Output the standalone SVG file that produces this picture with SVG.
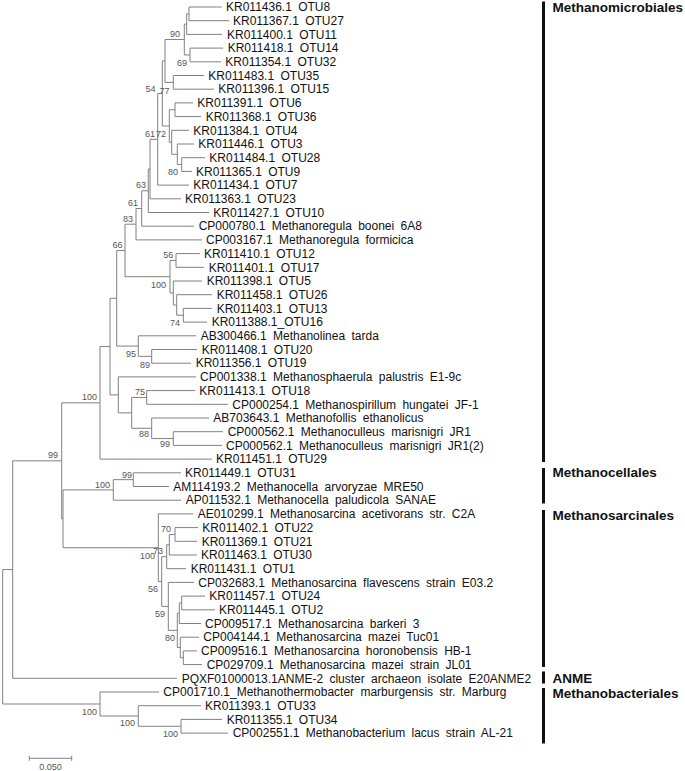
<svg xmlns="http://www.w3.org/2000/svg" width="685" height="771" viewBox="0 0 685 771">
<style>
.br{fill:none;stroke:#808080;stroke-width:1}
.lf{font-family:"Liberation Sans",Arial,sans-serif;font-size:12px;fill:#111;word-spacing:3px}
.bs{font-family:"Liberation Sans",Arial,sans-serif;font-size:9px;fill:#555;text-anchor:end}
.grp{font-family:"Liberation Sans",Arial,sans-serif;font-size:13.5px;font-weight:bold;fill:#111}
.bar{fill:#111}
</style>
<rect width="685" height="771" fill="#fff"/>
<g id="connectors">
<path class="br" d="M189,7V20.7M189,7H221.7M189,20.7H229.3
M186.7,13.85V34.4M186.7,13.85H189M186.7,34.4H222
M190,48.1V61.8M190,48.1H223M190,61.8H221
M184.3,24.13V54.95M184.3,24.13H186.7M184.3,54.95H190
M173.3,75.5V89.2M173.3,75.5H204M173.3,89.2H214
M165,39.54V82.35M165,39.54H184.3M165,82.35H173.3
M175,102.9V116.6M175,102.9H193M175,116.6H201
M181.7,157.7V171.4M181.7,157.7H205M181.7,171.4H192
M177.3,144V164.55M177.3,144H194M177.3,164.55H181.7
M171.7,130.3V154.28M171.7,130.3H189M171.7,154.28H177.3
M169.3,109.75V142.29M169.3,109.75H175M169.3,142.29H171.7
M162.3,60.94V126.02M162.3,60.94H165M162.3,126.02H169.3
M157.7,93.48V185.1M157.7,93.48H162.3M157.7,185.1H189
M150,139.29V198.8M150,139.29H157.7M150,198.8H181
M148.3,169.05V212.5M148.3,169.05H150M148.3,212.5H209
M141.7,190.77V226.2M141.7,190.77H148.3M141.7,226.2H194
M136,208.49V239.9M136,208.49H141.7M136,239.9H202
M176,253.6V267.3M176,253.6H200M176,267.3H204
M183.3,308.4V322.1M183.3,308.4H212M183.3,322.1H207
M176.7,294.7V315.25M176.7,294.7H212M176.7,315.25H183.3
M173.3,281V304.98M173.3,281H202M173.3,304.98H176.7
M170,260.45V292.99M170,260.45H176M170,292.99H173.3
M125,224.19V276.72M125,224.19H136M125,276.72H170
M151.7,349.5V363.2M151.7,349.5H197M151.7,363.2H191
M138.3,335.8V356.35M138.3,335.8H196M138.3,356.35H151.7
M116.7,250.46V346.08M116.7,250.46H125M116.7,346.08H138.3
M146.7,390.6V404.3M146.7,390.6H195M146.7,404.3H228
M173.3,431.7V445.4M173.3,431.7H223M173.3,445.4H222
M151.7,418V438.55M151.7,418H209M151.7,438.55H173.3
M131.7,397.45V428.28M131.7,397.45H146.7M131.7,428.28H151.7
M118.3,376.9V412.86M118.3,376.9H196M118.3,412.86H131.7
M110,298.27V394.88M110,298.27H116.7M110,394.88H118.3
M100,346.58V459.1M100,346.58H110M100,459.1H212
M133.3,472.8V486.5M133.3,472.8H181M133.3,486.5H169
M113.3,479.65V500.2M113.3,479.65H133.3M113.3,500.2H181
M175,527.6V541.3M175,527.6H198M175,541.3H197
M169.3,534.45V555M169.3,534.45H175M169.3,555H197
M166.7,544.73V568.7M166.7,544.73H169.3M166.7,568.7H186
M181.7,596.1V609.8M181.7,596.1H205M181.7,609.8H215
M179.3,602.95V623.5M179.3,602.95H181.7M179.3,623.5H201
M183.3,650.9V664.6M183.3,650.9H197M183.3,664.6H202
M180.3,637.2V657.75M180.3,637.2H199M180.3,657.75H183.3
M177.3,613.23V647.48M177.3,613.23H179.3M177.3,647.48H180.3
M168.3,582.4V630.35M168.3,582.4H194M168.3,630.35H177.3
M161.7,556.71V606.38M161.7,556.71H166.7M161.7,606.38H168.3
M158.3,513.9V581.54M158.3,513.9H193M158.3,581.54H161.7
M63,489.93V547.72M63,489.93H113.3M63,547.72H158.3
M61.7,402.84V518.83M61.7,402.84H100M61.7,518.83H63
M12.7,460.83V678.3M12.7,460.83H61.7M12.7,678.3H177
M181,719.4V733.1M181,719.4H222M181,733.1H228
M138.3,705.7V726.25M138.3,705.7H201M138.3,726.25H181
M100,692V715.98M100,692H159M100,715.98H138.3
M2.7,569.57V703.99M2.7,569.57H12.7M2.7,703.99H100"/>
</g>
<g id="bootstrap">
<text class="bs" x="180" y="37">90</text>
<text class="bs" x="187" y="66">69</text>
<text class="bs" x="155.5" y="92">54</text>
<text class="bs" x="169.5" y="93.5">77</text>
<text class="bs" x="155" y="137">61</text>
<text class="bs" x="166" y="137">72</text>
<text class="bs" x="178" y="175">80</text>
<text class="bs" x="146" y="188">63</text>
<text class="bs" x="138" y="206">61</text>
<text class="bs" x="133" y="222">83</text>
<text class="bs" x="122.5" y="248">66</text>
<text class="bs" x="173.3" y="258">56</text>
<text class="bs" x="166" y="288">100</text>
<text class="bs" x="180" y="325.7">74</text>
<text class="bs" x="136" y="357">95</text>
<text class="bs" x="150" y="368">89</text>
<text class="bs" x="97" y="400">100</text>
<text class="bs" x="145" y="395">75</text>
<text class="bs" x="149" y="437">88</text>
<text class="bs" x="170" y="447">99</text>
<text class="bs" x="58" y="458">99</text>
<text class="bs" x="132" y="477.5">99</text>
<text class="bs" x="110" y="487.5">100</text>
<text class="bs" x="171" y="532">70</text>
<text class="bs" x="155" y="559">100</text>
<text class="bs" x="163" y="553.7">73</text>
<text class="bs" x="158" y="592">56</text>
<text class="bs" x="165" y="617">59</text>
<text class="bs" x="175" y="640.7">80</text>
<text class="bs" x="97" y="714.7">100</text>
<text class="bs" x="135" y="726">100</text>
<text class="bs" x="178" y="737">100</text>
</g>
<g id="leaves">
<g id="L0"><text class="lf" x="226" y="11.2">KR011436.1 OTU8</text></g>
<g id="L1"><text class="lf" x="233" y="24.9">KR011367.1 OTU27</text></g>
<g id="L2"><text class="lf" x="227" y="38.6">KR011400.1 OTU11</text></g>
<g id="L3"><text class="lf" x="227.7" y="52.3">KR011418.1 OTU14</text></g>
<g id="L4"><text class="lf" x="225.3" y="66">KR011354.1 OTU32</text></g>
<g id="L5"><text class="lf" x="208.3" y="79.7">KR011483.1 OTU35</text></g>
<g id="L6"><text class="lf" x="218.3" y="93.4">KR011396.1 OTU15</text></g>
<g id="L7"><text class="lf" x="197.3" y="107.1">KR011391.1 OTU6</text></g>
<g id="L8"><text class="lf" x="205.7" y="120.8">KR011368.1 OTU36</text></g>
<g id="L9"><text class="lf" x="193.3" y="134.5">KR011384.1 OTU4</text></g>
<g id="L10"><text class="lf" x="198.3" y="148.2">KR011446.1 OTU3</text></g>
<g id="L11"><text class="lf" x="209.3" y="161.9">KR011484.1 OTU28</text></g>
<g id="L12"><text class="lf" x="196" y="175.6">KR011365.1 OTU9</text></g>
<g id="L13"><text class="lf" x="193.3" y="189.3">KR011434.1 OTU7</text></g>
<g id="L14"><text class="lf" x="185" y="203">KR011363.1 OTU23</text></g>
<g id="L15"><text class="lf" x="213.3" y="216.7">KR011427.1 OTU10</text></g>
<g id="L16"><text class="lf" x="198.7" y="230.4">CP000780.1 Methanoregula boonei 6A8</text></g>
<g id="L17"><text class="lf" x="206" y="244.1">CP003167.1 Methanoregula formicica</text></g>
<g id="L18"><text class="lf" x="204" y="257.8">KR011410.1 OTU12</text></g>
<g id="L19"><text class="lf" x="208.7" y="271.5">KR011401.1 OTU17</text></g>
<g id="L20"><text class="lf" x="206.7" y="285.2">KR011398.1 OTU5</text></g>
<g id="L21"><text class="lf" x="216.7" y="298.9">KR011458.1 OTU26</text></g>
<g id="L22"><text class="lf" x="216.7" y="312.6">KR011403.1 OTU13</text></g>
<g id="L23"><text class="lf" x="211.7" y="326.3">KR011388.1_OTU16</text></g>
<g id="L24"><text class="lf" x="200.7" y="340">AB300466.1 Methanolinea tarda</text></g>
<g id="L25"><text class="lf" x="201.7" y="353.7">KR011408.1 OTU20</text></g>
<g id="L26"><text class="lf" x="195.7" y="367.4">KR011356.1 OTU19</text></g>
<g id="L27"><text class="lf" x="200" y="381.1">CP001338.1 Methanosphaerula palustris E1-9c</text></g>
<g id="L28"><text class="lf" x="199.3" y="394.8">KR011413.1 OTU18</text></g>
<g id="L29"><text class="lf" x="232.3" y="408.5">CP000254.1 Methanospirillum hungatei JF-1</text></g>
<g id="L30"><text class="lf" x="213.3" y="422.2">AB703643.1 Methanofollis ethanolicus</text></g>
<g id="L31"><text class="lf" x="227.7" y="435.9">CP000562.1 Methanoculleus marisnigri JR1</text></g>
<g id="L32"><text class="lf" x="226" y="449.6">CP000562.1 Methanoculleus marisnigri JR1(2)</text></g>
<g id="L33"><text class="lf" x="216" y="463.3">KR011451.1 OTU29</text></g>
<g id="L34"><text class="lf" x="185" y="477">KR011449.1 OTU31</text></g>
<g id="L35"><text class="lf" x="173.3" y="490.7">AM114193.2 Methanocella arvoryzae MRE50</text></g>
<g id="L36"><text class="lf" x="185.7" y="504.4">AP011532.1 Methanocella paludicola SANAE</text></g>
<g id="L37"><text class="lf" x="197.7" y="518.1">AE010299.1 Methanosarcina acetivorans str. C2A</text></g>
<g id="L38"><text class="lf" x="202.3" y="531.8">KR011402.1 OTU22</text></g>
<g id="L39"><text class="lf" x="201.7" y="545.5">KR011369.1 OTU21</text></g>
<g id="L40"><text class="lf" x="201" y="559.2">KR011463.1 OTU30</text></g>
<g id="L41"><text class="lf" x="190.7" y="572.9">KR011431.1 OTU1</text></g>
<g id="L42"><text class="lf" x="198.3" y="586.6">CP032683.1 Methanosarcina flavescens strain E03.2</text></g>
<g id="L43"><text class="lf" x="209.3" y="600.3">KR011457.1 OTU24</text></g>
<g id="L44"><text class="lf" x="219" y="614">KR011445.1 OTU2</text></g>
<g id="L45"><text class="lf" x="205" y="627.7">CP009517.1 Methanosarcina barkeri 3</text></g>
<g id="L46"><text class="lf" x="203.3" y="641.4">CP004144.1 Methanosarcina mazei Tuc01</text></g>
<g id="L47"><text class="lf" x="201" y="655.1">CP009516.1 Methanosarcina horonobensis HB-1</text></g>
<g id="L48"><text class="lf" x="206.7" y="668.8">CP029709.1 Methanosarcina mazei strain JL01</text></g>
<g id="L49"><text class="lf" x="181.7" y="682.5">PQXF01000013.1ANME-2 cluster archaeon isolate E20ANME2</text></g>
<g id="L50"><text class="lf" x="163.3" y="696.2">CP001710.1_Methanothermobacter marburgensis str. Marburg</text></g>
<g id="L51"><text class="lf" x="205" y="709.9">KR011393.1 OTU33</text></g>
<g id="L52"><text class="lf" x="226.7" y="723.6">KR011355.1 OTU34</text></g>
<g id="L53"><text class="lf" x="232.7" y="737.3">CP002551.1 Methanobacterium lacus strain AL-21</text></g>
</g>
<g id="groups">
<g id="g-methanomicrobiales"><rect class="bar" x="542" y="1.5" width="3" height="460.5"/><text class="grp" x="552.5" y="11.5">Methanomicrobiales</text></g>
<g id="g-methanocellales"><rect class="bar" x="542" y="468" width="3" height="35.5"/><text class="grp" x="552.5" y="477">Methanocellales</text></g>
<g id="g-methanosarcinales"><rect class="bar" x="542" y="510" width="3" height="157"/><text class="grp" x="552.5" y="520">Methanosarcinales</text></g>
<g id="g-anme"><rect class="bar" x="542" y="671.5" width="3" height="12"/><text class="grp" x="552.5" y="683">ANME</text></g>
<g id="g-methanobacteriales"><rect class="bar" x="542" y="688" width="3" height="55.5"/><text class="grp" x="552.5" y="698">Methanobacteriales</text></g>
</g>
<g id="scalebar">
<path class="br" d="M29.3,758.3H71.7M29.3,755.8V760.8M71.7,755.8V760.8"/>
<text class="bs" x="50.5" y="770" style="text-anchor:middle">0.050</text>
</g>
</svg>
